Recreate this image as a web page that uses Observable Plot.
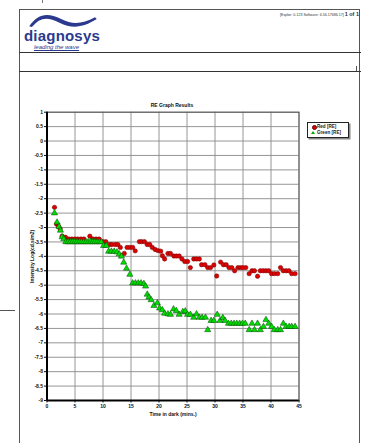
<!DOCTYPE html>
<html><head><meta charset="utf-8">
<script src="https://cdn.jsdelivr.net/npm/d3@7"></script>
<script src="https://cdn.jsdelivr.net/npm/@observablehq/plot@0.6"></script>
<style>
html,body{margin:0;padding:0;background:#fff;}
#page{position:relative;width:368px;height:443px;overflow:hidden;font-family:"Liberation Sans",Arial,sans-serif;}
.abs{position:absolute;}
#chart{position:absolute;left:0;top:0;}
</style></head>
<body><div id="page">
<div class="abs" style="left:19px;top:9px;width:341px;height:440px;border:1px solid #555;box-sizing:border-box;"></div>
<div class="abs" style="left:42px;top:0;width:1px;height:3px;background:#777;"></div>
<div class="abs" style="left:19px;top:52px;width:342px;height:1px;background:#333;"></div>
<div class="abs" style="left:19px;top:71px;width:342px;height:1px;background:#333;"></div>
<div class="abs" style="left:356px;top:66px;width:1px;height:5px;background:#555;"></div>
<div class="abs" style="left:0;top:310px;width:15px;height:1px;background:#555;"></div>
<svg class="abs" style="left:24px;top:12px" width="78" height="16" viewBox="0 0 80 18"><path d="M2,16 C12,2 22,0 38,8 C52,15 62,13 76,6 L78,8 C62,18 50,19 36,12 C22,5 14,6 5,17 Z" fill="#2b3a8e"/></svg>
<div class="abs" style="left:24px;top:27px;font-size:15px;font-weight:bold;color:#2b3a8e;letter-spacing:0.2px;">diagnosys</div>
<div class="abs" style="left:34px;top:44px;font-size:6px;font-style:italic;color:#2b3a8e;text-decoration:underline;">leading the wave</div>
<div class="abs" style="right:9px;top:11px;font-size:3.6px;color:#333;white-space:nowrap;">[Explor: 0-123 Software: 6.56.17686.17] <span style="font-size:5.5px;font-weight:bold;">1 of 1</span></div>
<div id="chart"></div>
<div class="abs" style="left:122px;top:102px;width:100px;text-align:center;font-size:5px;font-weight:bold;color:#111;">RE Graph Results</div>
<div class="abs" style="left:307px;top:122px;width:42px;height:16px;border:1px solid #222;background:#fff;box-shadow:1.5px 1.5px 0 #888;box-sizing:border-box;font-size:4.6px;font-weight:bold;color:#222;">
  <div style="position:absolute;left:3.5px;top:2px;width:3px;height:3px;border-radius:50%;background:#e00000;border:0.5px solid #600;"></div>
  <div style="position:absolute;left:9px;top:1.2px;white-space:nowrap;">Red [RE]</div>
  <div style="position:absolute;left:3.2px;top:8px;width:0;height:0;border-left:2.2px solid transparent;border-right:2.2px solid transparent;border-bottom:3.8px solid #0a0;"></div>
  <div style="position:absolute;left:9px;top:7.4px;white-space:nowrap;">Green [RE]</div>
</div>
</div>
<script>
const redT = [1.34,1.7,2.05,2.35,2.7,3.3,3.9,4.45,5.0,5.5,6.05,6.6,7.65,8.2,8.75,9.3,10.0,10.5,11.2,11.6,12.2,12.65,13.1,13.8,14.3,14.8,15.3,15.75,16.5,16.9,17.4,17.9,18.35,18.8,19.3,19.8,20.3,20.6,21.0,21.6,22.05,22.65,23.1,23.6,24.1,24.6,25.1,25.6,26.2,26.7,27.2,27.6,28.2,28.7,29.2,29.8,30.3,31.0,31.5,32.0,32.5,33.0,33.5,34.1,34.55,35.0,35.5,36.1,36.6,37.05,37.6,38.1,38.6,39.1,39.6,40.1,40.6,41.2,41.7,42.2,42.7,43.2,43.7,44.3];
const redY = [-2.30,-2.88,-2.96,-3.05,-3.30,-3.34,-3.40,-3.40,-3.40,-3.40,-3.40,-3.40,-3.30,-3.40,-3.40,-3.40,-3.49,-3.49,-3.59,-3.59,-3.59,-3.59,-3.69,-3.90,-3.69,-3.69,-3.69,-3.81,-3.49,-3.49,-3.49,-3.59,-3.59,-3.69,-3.76,-3.80,-3.82,-3.98,-4.09,-3.90,-3.90,-3.99,-3.99,-3.99,-4.09,-4.18,-4.18,-4.39,-4.09,-4.09,-4.09,-4.29,-4.29,-4.39,-4.39,-4.30,-4.68,-4.20,-4.29,-4.29,-4.39,-4.39,-4.50,-4.39,-4.39,-4.39,-4.39,-4.60,-4.50,-4.50,-4.69,-4.50,-4.50,-4.50,-4.50,-4.60,-4.60,-4.60,-4.39,-4.50,-4.50,-4.50,-4.60,-4.60];
const greenT = [1.34,1.8,2.15,2.4,2.7,3.0,3.36,3.75,4.15,4.55,4.95,5.35,5.75,6.15,6.55,6.95,7.35,7.75,8.15,8.55,8.95,9.35,9.7,10.1,10.6,11.0,11.5,12.0,12.5,12.9,13.3,13.7,14.2,14.8,15.3,15.8,16.3,16.8,17.3,17.6,17.9,18.2,18.6,19.1,19.7,20.1,20.6,21.0,21.6,22.05,22.6,23.1,23.6,24.25,24.7,25.1,25.6,26.2,26.7,27.2,27.7,28.3,28.7,29.3,29.8,30.4,30.9,31.4,31.8,32.4,32.9,33.4,33.9,34.4,34.9,35.4,36.1,36.6,37.05,37.6,38.1,38.65,39.1,39.6,40.1,40.6,41.2,41.7,42.2,42.7,43.25,43.7,44.3];
const greenY = [-2.50,-2.82,-2.97,-3.10,-3.33,-3.40,-3.50,-3.50,-3.50,-3.50,-3.50,-3.50,-3.50,-3.50,-3.50,-3.50,-3.50,-3.50,-3.50,-3.50,-3.50,-3.50,-3.50,-3.63,-3.63,-3.83,-3.83,-3.83,-3.85,-3.92,-4.00,-4.21,-4.42,-4.63,-4.93,-4.93,-4.93,-4.93,-4.95,-5.04,-5.32,-5.42,-5.51,-5.71,-5.62,-5.80,-5.86,-5.98,-6.00,-6.02,-5.83,-5.89,-6.02,-5.92,-5.90,-6.02,-6.02,-6.12,-6.00,-6.12,-6.12,-6.12,-6.55,-6.23,-6.23,-6.02,-6.23,-6.13,-6.23,-6.33,-6.33,-6.33,-6.33,-6.33,-6.33,-6.33,-6.55,-6.33,-6.55,-6.33,-6.55,-6.44,-6.20,-6.33,-6.44,-6.55,-6.55,-6.55,-6.33,-6.44,-6.44,-6.44,-6.44];
const xTicks = [0,5,10,15,20,25,30,35,40,45];
const yTicks = [1,0.5,0,-0.5,-1,-1.5,-2,-2.5,-3,-3.5,-4,-4.5,-5,-5.5,-6,-6.5,-7,-7.5,-8,-8.5,-9];
const xLabel = "Time in dark (mins.)";
const yLabel = "Intensity Log(cd.s/m2)";

const red = redT.map((t,i)=>({t, v: redY[i]}));
const green = greenT.map((t,i)=>({t, v: greenY[i]}));

const chart = Plot.plot({
  width: 368, height: 443,
  marginLeft: 46.5, marginRight: 69.5, marginTop: 111.7, marginBottom: 43,
  style: {background: "transparent", fontFamily: "'Liberation Sans', Arial, sans-serif", fontSize: "5px", fontWeight: "bold", color: "#111"},
  x: {domain: [0, 45]},
  y: {domain: [-9, 1]},
  marks: [
    Plot.gridX(xTicks, {stroke: "#8a8a8a", strokeOpacity: 1, strokeWidth: 0.9}),
    Plot.gridY(yTicks, {stroke: "#8a8a8a", strokeOpacity: 1, strokeWidth: 0.9}),
    Plot.frame({stroke: "#555", strokeWidth: 1}),
    Plot.axisX(xTicks, {tickSize: 2.5, tickPadding: 1.5, label: xLabel, labelArrow: "none", labelAnchor: "center", labelOffset: 15, tickFormat: d => String(d)}),
    Plot.axisY(yTicks, {tickSize: 2.5, tickPadding: 1.5, label: yLabel, labelArrow: "none", labelAnchor: "center", labelOffset: 17, tickFormat: d => String(d)}),
    Plot.ruleX([0], {stroke: "#000", strokeWidth: 2}),
    Plot.ruleY([-9], {stroke: "#000", strokeWidth: 2}),
    Plot.dot(red, {x: "t", y: "v", r: 2.2, fill: "#e00000", stroke: "#6a0000", strokeWidth: 0.5}),
    Plot.dot(green, {x: "t", y: "v", symbol: "triangle", r: 2.3, fill: "#00dd00", stroke: "#004400", strokeWidth: 0.5})
  ]
});
document.getElementById("chart").appendChild(chart);
</script>
</body></html>
